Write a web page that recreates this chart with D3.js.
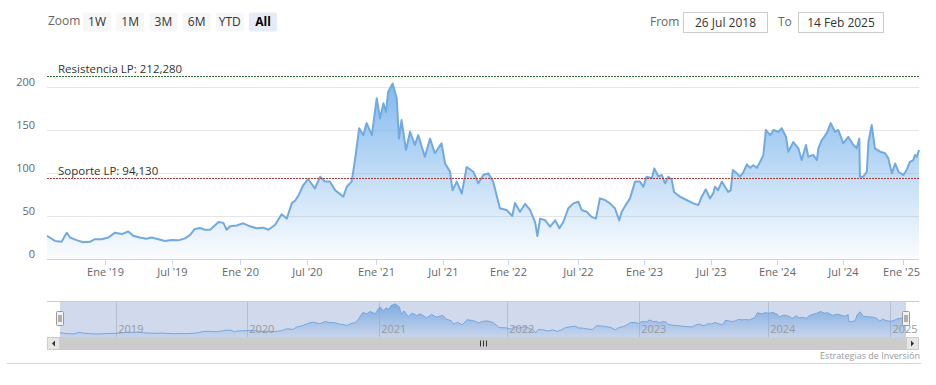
<!DOCTYPE html>
<html><head><meta charset="utf-8">
<script src="https://cdn.jsdelivr.net/npm/d3@7"></script>
<style>
html,body{margin:0;padding:0;background:#fff;}
svg{display:block;font-family:"Open Sans","Segoe UI",sans-serif;}
</style></head><body>
<svg id="c" width="936" height="385"></svg>
<script>
// ---------------- DATA ----------------
const dates = ["2018-07-26","2018-08-17","2018-09-04","2018-09-18","2018-09-27","2018-10-15","2018-11-02","2018-11-21","2018-12-04","2018-12-23",
"2019-01-10","2019-01-28","2019-02-15","2019-03-05","2019-03-18","2019-04-05","2019-04-23","2019-05-07","2019-05-25","2019-06-12","2019-06-30",
"2019-07-18","2019-08-05","2019-08-19","2019-09-01","2019-09-15","2019-09-28","2019-10-12","2019-10-21","2019-11-04","2019-11-17","2019-11-26","2019-12-05","2019-12-23",
"2020-01-10","2020-01-28","2020-02-15","2020-03-04","2020-03-18","2020-04-05","2020-04-23","2020-05-07","2020-05-21","2020-05-30","2020-06-08","2020-06-21",
"2020-07-04","2020-07-22","2020-08-05","2020-08-18","2020-08-31","2020-09-14","2020-10-06","2020-10-15","2020-10-28","2020-11-06","2020-11-17","2020-11-28","2020-12-07","2020-12-21",
"2021-01-03","2021-01-12","2021-01-21","2021-01-28","2021-02-03","2021-02-15","2021-02-26","2021-03-04","2021-03-11","2021-03-23","2021-04-03","2021-04-16","2021-04-25","2021-05-13","2021-05-27","2021-06-09","2021-06-27",
"2021-07-07","2021-07-21","2021-07-28","2021-08-09","2021-08-23","2021-09-06","2021-09-25","2021-10-09","2021-10-23","2021-11-06","2021-11-20","2021-12-09","2021-12-28",
"2022-01-12","2022-01-19","2022-02-01","2022-02-14","2022-02-27","2022-03-12","2022-03-18","2022-03-25","2022-04-07","2022-04-20","2022-05-03","2022-05-14","2022-05-24","2022-06-06","2022-06-19",
"2022-07-02","2022-07-11","2022-07-25","2022-08-08","2022-08-20","2022-08-31","2022-09-14","2022-09-28","2022-10-12","2022-10-24","2022-10-31","2022-11-14","2022-11-23","2022-12-07","2022-12-21","2022-12-30",
"2023-01-08","2023-01-22","2023-01-29","2023-02-09","2023-02-18","2023-02-27","2023-03-08","2023-03-17","2023-03-23","2023-04-08","2023-04-26","2023-05-14","2023-05-28","2023-06-06","2023-06-17","2023-06-28",
"2023-07-07","2023-07-12","2023-07-21","2023-07-31","2023-08-09","2023-08-18","2023-08-25","2023-08-31","2023-09-11","2023-09-20","2023-09-29","2023-10-09","2023-10-18","2023-10-27","2023-11-06","2023-11-15","2023-11-24","2023-12-01","2023-12-13","2023-12-22",
"2024-01-05","2024-01-14","2024-01-26","2024-02-01","2024-02-15","2024-02-29","2024-03-09","2024-03-21","2024-03-27","2024-04-10","2024-04-20","2024-04-24","2024-05-03","2024-05-17","2024-05-28","2024-06-09","2024-06-18",
"2024-07-02","2024-07-17","2024-08-02","2024-08-12","2024-08-20","2024-08-22","2024-09-01","2024-09-12","2024-09-17","2024-09-27","2024-10-07","2024-10-23","2024-11-07","2024-11-17","2024-11-28","2024-12-08","2024-12-18",
"2025-01-02","2025-01-11","2025-01-20","2025-01-29","2025-02-03","2025-02-08","2025-02-14"];
const values = [27,21,20,30.6,25,22,19.4,20,23,23,
25,30.6,29,32,27,25,23.6,25,23,21,22,
21.7,24,28,35,36,34,34,37.6,43,42,34,38,39,
41.5,38,35.7,36.4,34,39.5,52,47,65,68,74,86,
93,82,95.7,90,90,80,72.5,84,90,115,152,144,158,144,
187,163.6,181,171,194.5,204,187,140,161.6,126.7,148,132.6,144,119,140,123,134.5,
111,101.5,80,90,76,107,101.5,88,97.7,99.6,90,59,57,
50,65,55,64,57,43,26.7,47,45,37.6,45,35.7,43,59,64.7,
66.6,57,55,49,47,70.5,68.6,64.7,59,45,55,64.7,70.5,90,90,84,
95.7,94,105.4,95.7,97.7,88,95.7,92,78,72.5,68.6,64.7,62.8,72.5,81,70.5,
76,84,80,90,84,78,80,103.5,99.6,95.7,100.8,110,106,109,106,113,121,150,144,150,
148,152,142,124.8,136,128.7,115,132.6,119,121,115,128.7,138,146,158,148,150,
134.5,142,132.6,128.7,140,95.7,95.7,101.5,136,155.8,128.7,124.8,123,117,99.6,111,101.5,
97.7,103.5,113,115,121,119,126.7];
const yTickValues = [0, 50, 100, 150, 200];
const xTickDates = ["2019-01-01","2019-07-01","2020-01-01","2020-07-01","2021-01-01","2021-07-01","2022-01-01","2022-07-01","2023-01-01","2023-07-01","2024-01-01","2024-07-01","2025-01-01"];
const xTickLabels = ["Ene '19","Jul '19","Ene '20","Jul '20","Ene '21","Jul '21","Ene '22","Jul '22","Ene '23","Jul '23","Ene '24","Jul '24","Ene '25"];
const navYearDates = ["2019-01-01","2020-01-01","2021-01-01","2022-01-01","2023-01-01","2024-01-01","2025-01-01"];
const navYearLabels = ["2019","2020","2021","2022","2023","2024","2025"];
const rangeButtons = ["1W","1M","3M","6M","YTD","All"];
const selectedButton = "All";
const fromText = "From", toText = "To";
const fromDate = "26 Jul 2018", toDate = "14 Feb 2025";
const resistanceName = "Resistencia LP", resistanceLevel = 212.28;
const supportName = "Soporte LP", supportLevel = 94.13;
const creditText = "Estrategias de Inversión";

// ---------------- LAYOUT ----------------
const parse = d3.timeParse("%Y-%m-%d");
const data = dates.map((d, i) => ({date: parse(d), value: values[i]}));
const svg = d3.select("#c");
const plotL = 47, plotR = 919, plotB = 259, plotT = 65.5;
// ordinal-like axis: relative widths of the half-year segments (trading-day spacing)
const segWeights = [58, 67, 68, 67, 69, 67, 65, 70, 66, 67, 66, 66, 60, 16];
const breakDates = [data[0].date, ...xTickDates.map(parse), data[data.length - 1].date];
const cum = [0]; segWeights.forEach(w => cum.push(cum[cum.length - 1] + w));
const total = cum[cum.length - 1];
const mainRange = cum.map(c => plotL + c / total * (plotR - plotL));
const x = d3.scaleTime().domain(breakDates).range(mainRange);
const y = d3.scaleLinear().domain([0, 225]).range([plotB, plotT]);
const esLocale = d3.formatLocale({decimal: ",", thousands: ".", grouping: [3], currency: ["", "€"]});
const fmt3 = esLocale.format(".3f");

const defs = svg.append("defs");
const grad = defs.append("linearGradient").attr("id", "areaGrad")
  .attr("gradientUnits", "userSpaceOnUse").attr("x1", 0).attr("x2", 0)
  .attr("y1", y(d3.max(values))).attr("y2", plotB);
grad.append("stop").attr("offset", 0).attr("stop-color", "#7cb5ec").attr("stop-opacity", 0.95);
grad.append("stop").attr("offset", 1).attr("stop-color", "#7cb5ec").attr("stop-opacity", 0.03);

// ---------------- RANGE SELECTOR ----------------
const tb = svg.append("g").attr("font-size", "12px");
tb.append("text").attr("x", 48).attr("y", 25).attr("fill", "#666").text("Zoom");
rangeButtons.forEach((b, i) => {
  const bx = 83 + i * 33.2;
  const sel = b === selectedButton;
  tb.append("rect").attr("x", bx).attr("y", 12.5).attr("width", 28).attr("height", 19).attr("rx", 2)
    .attr("fill", sel ? "#e6ebf5" : "#f7f7f7");
  tb.append("text").attr("x", bx + 14).attr("y", 26).attr("text-anchor", "middle")
    .attr("fill", sel ? "#000" : "#333").attr("font-weight", sel ? "bold" : "normal").text(b);
});
tb.append("text").attr("x", 650).attr("y", 26).attr("fill", "#666").text(fromText);
tb.append("rect").attr("x", 683.5).attr("y", 12.5).attr("width", 84).attr("height", 20).attr("fill", "#fff").attr("stroke", "#ccc");
tb.append("text").attr("x", 725.5).attr("y", 26.5).attr("text-anchor", "middle").attr("fill", "#333").text(fromDate);
tb.append("text").attr("x", 778).attr("y", 26).attr("fill", "#666").text(toText);
tb.append("rect").attr("x", 798.5).attr("y", 12.5).attr("width", 85).attr("height", 20).attr("fill", "#fff").attr("stroke", "#ccc");
tb.append("text").attr("x", 841).attr("y", 26.5).attr("text-anchor", "middle").attr("fill", "#333").text(toDate);

// ---------------- MAIN PLOT ----------------
const gy = svg.append("g");
yTickValues.forEach(v => {
  gy.append("line").attr("x1", plotL).attr("x2", plotR).attr("y1", Math.round(y(v)) + 0.5).attr("y2", Math.round(y(v)) + 0.5)
    .attr("stroke", v === 0 ? "#ccd6eb" : "#e6e6e6");
  gy.append("text").attr("x", 35).attr("y", y(v) - 1.5).attr("text-anchor", "end")
    .attr("font-size", "11px").attr("fill", "#666").text(v);
});

svg.append("path").datum(data).attr("fill", "url(#areaGrad)")
  .attr("d", d3.area().x(d => x(d.date)).y0(plotB).y1(d => y(d.value)));
svg.append("path").datum(data).attr("fill", "none").attr("stroke", "#72aae0").attr("stroke-width", 2)
  .attr("stroke-linejoin", "round")
  .attr("d", d3.line().x(d => x(d.date)).y(d => y(d.value)));

// x axis ticks & labels
const gx = svg.append("g");
xTickDates.forEach((d, i) => {
  const tx = Math.round(x(parse(d))) + 0.5;
  gx.append("line").attr("x1", tx).attr("x2", tx).attr("y1", plotB).attr("y2", plotB + 6).attr("stroke", "#ccd6eb");
  const t = gx.append("text").attr("x", tx).attr("y", 276).attr("text-anchor", "middle")
    .attr("font-size", "11px").attr("fill", "#666").text(xTickLabels[i]);
  const bb = t.node().getBBox();
  if (bb.x + bb.width > plotR + 1) t.attr("text-anchor", "end").attr("x", plotR + 1);
});

// plot lines
[[resistanceLevel, resistanceName, "#2e6b2e"], [supportLevel, supportName, "#a33a3a"]].forEach(([lv, nm, col]) => {
  const ly = Math.round(y(lv)) + 0.5;
  svg.append("line").attr("x1", plotL).attr("x2", plotR).attr("y1", ly).attr("y2", ly)
    .attr("stroke", col).attr("stroke-width", 1).attr("stroke-dasharray", "2,1");
  svg.append("text").attr("x", 58).attr("y", ly - 3.5).attr("font-size", "11.5px").attr("fill", "#333")
    .text(nm + ": " + fmt3(lv));
});

// ---------------- NAVIGATOR ----------------
const navL = 60, navR = 906, navT = 301, navB = 337;
const navRange = cum.map(c => navL + c / total * (navR - navL));
const xn = d3.scaleTime().domain(breakDates).range(navRange);
const vmin = d3.min(values), vmax = d3.max(values), pad = (vmax - vmin) * 0.1;
const yn = d3.scaleLinear().domain([vmin - pad, vmax + pad]).range([navB, navT]);
const gridN = svg.append("g");
navYearDates.forEach(d => {
  const tx = Math.round(xn(parse(d))) + 0.5;
  gridN.append("line").attr("x1", tx).attr("x2", tx).attr("y1", navT).attr("y2", navB).attr("stroke", "#d8d8d8");
});
const gradN = defs.append("linearGradient").attr("id", "navGrad")
  .attr("gradientUnits", "userSpaceOnUse").attr("x1", 0).attr("x2", 0).attr("y1", yn(vmax)).attr("y2", navB);
gradN.append("stop").attr("offset", 0).attr("stop-color", "#7cb5ec").attr("stop-opacity", 0.9);
gradN.append("stop").attr("offset", 1).attr("stop-color", "#7cb5ec").attr("stop-opacity", 0.1);
svg.append("path").datum(data).attr("fill", "url(#navGrad)")
  .attr("d", d3.area().x(d => xn(d.date)).y0(navB).y1(d => yn(d.value)));
svg.append("path").datum(data).attr("fill", "none").attr("stroke", "#7cb5ec").attr("stroke-width", 1)
  .attr("d", d3.line().x(d => xn(d.date)).y(d => yn(d.value)));
svg.append("rect").attr("x", navL).attr("y", navT).attr("width", navR - navL).attr("height", navB - navT)
  .attr("fill", "rgba(102,133,194,0.3)");
navYearDates.forEach((d, i) => {
  svg.append("text").attr("x", xn(parse(d)) + 2).attr("y", 333).attr("font-size", "11px").attr("fill", "#999").text(navYearLabels[i]);
});
svg.append("line").attr("x1", 47).attr("x2", plotR).attr("y1", navT + 0.5).attr("y2", navT + 0.5).attr("stroke", "#ccc");
[navL, navR].forEach(hx => {
  const g = svg.append("g");
  g.append("rect").attr("x", hx - 3.5).attr("y", 311.5).attr("width", 7).attr("height", 14).attr("rx", 1)
    .attr("fill", "#f2f2f2").attr("stroke", "#999");
  [-1, 1].forEach(o => g.append("line").attr("x1", hx + o).attr("x2", hx + o).attr("y1", 315).attr("y2", 322).attr("stroke", "#333").attr("stroke-width", 0.7));
});

// scrollbar
const sbT = 337, sbH = 13;
svg.append("rect").attr("x", 47).attr("y", sbT).attr("width", plotR - 47).attr("height", sbH).attr("fill", "#f2f2f2");
svg.append("rect").attr("x", navL).attr("y", sbT).attr("width", navR - navL).attr("height", sbH).attr("fill", "#cccccc");
[[47, -1], [navR, 1]].forEach(([bx, dir]) => {
  svg.append("rect").attr("x", bx + 0.5).attr("y", sbT + 0.5).attr("width", 12).attr("height", sbH - 1)
    .attr("fill", "#e6e6e6").attr("stroke", "#cccccc");
  const cx = bx + 6.5, cy = sbT + sbH / 2;
  svg.append("path").attr("fill", "#333")
    .attr("d", dir < 0 ? `M${cx + 1.5},${cy - 3}L${cx - 1.5},${cy}L${cx + 1.5},${cy + 3}Z` : `M${cx - 1.5},${cy - 3}L${cx + 1.5},${cy}L${cx - 1.5},${cy + 3}Z`);
});
const rc = Math.round((navL + navR) / 2);
[-3, 0, 3].forEach(o => svg.append("line").attr("x1", rc + o + 0.5).attr("x2", rc + o + 0.5)
  .attr("y1", sbT + 3.5).attr("y2", sbT + sbH - 3.5).attr("stroke", "#333").attr("stroke-width", 1));

// credits & bottom border
svg.append("text").attr("x", plotR + 1).attr("y", 359).attr("text-anchor", "end").attr("font-size", "9px")
  .attr("fill", "#999").text(creditText);
svg.append("line").attr("x1", 7).attr("x2", 921).attr("y1", 363.5).attr("y2", 363.5).attr("stroke", "#d6d6d6");
</script>
</body></html>
